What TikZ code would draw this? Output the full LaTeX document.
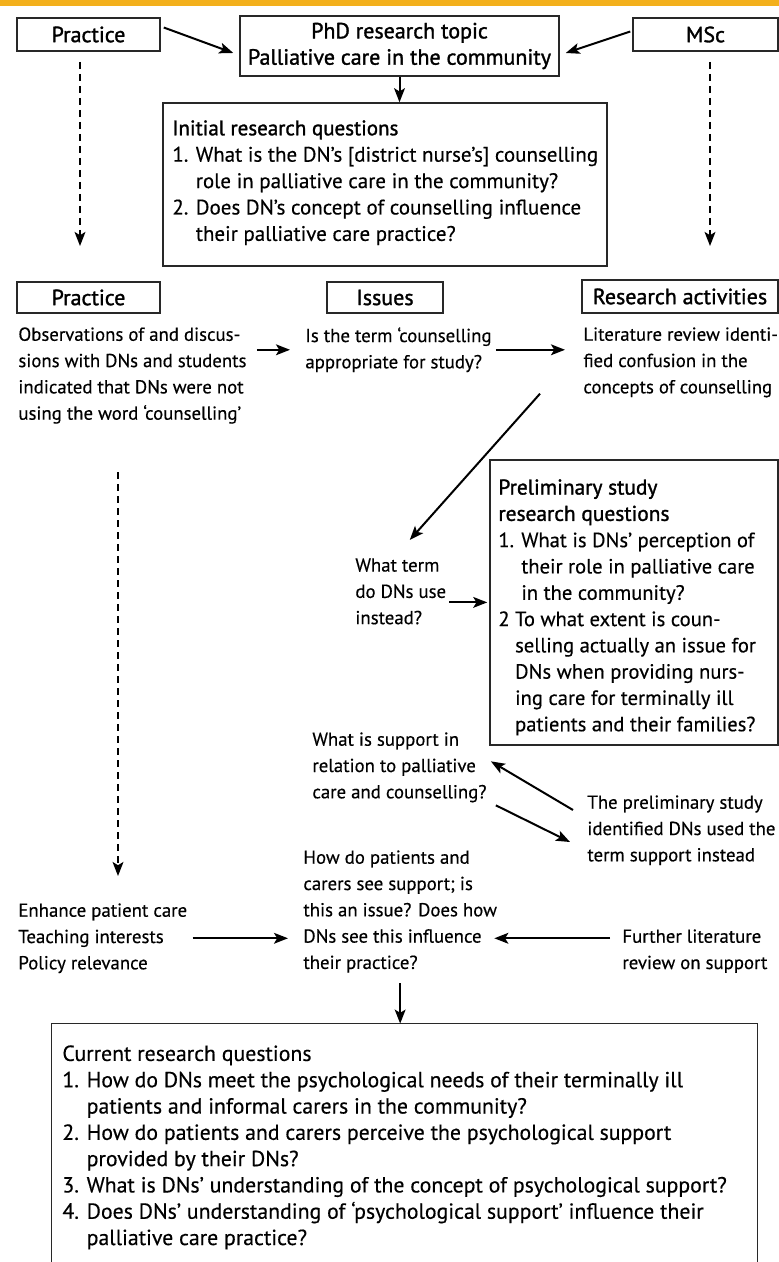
\documentclass[tikz,border=0pt]{standalone}
\usepackage{fontspec}
\setmainfont{PT Sans}[FakeBold=0.4]
\newfontfamily\headfont{PT Sans}[FakeBold=1.4]
\usetikzlibrary{arrows.meta,fit}
\definecolor{barorange}{RGB}{243,176,28}
\definecolor{boxline}{RGB}{40,40,40}
\begin{document}
\begin{tikzpicture}[x=0.5pt,y=-0.5pt,
  frame/.style={draw=boxline, line width=0.75pt, inner sep=0pt},
  head/.style={frame, font=\headfont\fontsize{11}{13.15}\selectfont, align=center},
  note/.style={anchor=north west, inner sep=0pt, align=left, font=\fontsize{9.4}{13.15}\selectfont},
  boxtext/.style={anchor=north west, inner sep=0pt, align=left, font=\fontsize{10.5}{13.2}\selectfont},
  pretext/.style={anchor=north west, inner sep=0pt, align=left, font=\fontsize{10.3}{13.15}\selectfont},
  curtext/.style={anchor=north west, inner sep=0pt, align=left, font=\fontsize{10.9}{13.15}\selectfont},
  arr/.style={-{Stealth[length=7pt,width=5.4pt,inset=1.6pt]}, line width=1pt},
  darr/.style={arr, dash pattern=on 3.6pt off 2.4pt},
]
\useasboundingbox (0,0) rectangle (779,1262);
\fill[barorange] (0,0) rectangle (779,6);

% row 1
\node[head, minimum width=71.5pt, minimum height=16.5pt] (prA) at (88.5,34.5) {Practice};
\node[head, minimum width=159.5pt, minimum height=30pt] (phd) at (399.5,46) {PhD research topic\\Palliative care in the community};
\node[head, minimum width=72.5pt, minimum height=16.5pt] (msc) at (705.5,34.5) {MSc};
\draw[arr] ([shift={(3,-7)}]prA.east) -- ([shift={(-6,7)}]phd.west);
\draw[arr] ([shift={(-2,-3)}]msc.west) -- ([shift={(6,7)}]phd.east);

\coordinate (d1s) at (80,62);
\coordinate (d1e) at (80,246);
\coordinate (d2s) at (710,62);
\coordinate (d2e) at (710,246);
\draw[darr] (d1s) -- (d1e);
\draw[darr] (d2s) -- (d2e);

% initial questions
\node[frame, minimum width=222pt, minimum height=81.5pt] (init) at (385,184.5) {};
\node[boxtext] (inittxt) at (172,120) {{\headfont Initial research questions}\\
1. What is the DN’s [district nurse’s] counselling\\
\phantom{1. }role in palliative care in the community?\\
2. Does DN’s concept of counselling influence\\
\phantom{2. }their palliative care practice?};
\draw[arr] (phd.south) -- (phd.south |- init.north);

% column headers
\node[head, minimum width=71.5pt, minimum height=15.5pt] (prB) at (88.5,297.5) {Practice};
\node[head, minimum width=58pt, minimum height=15.5pt] (iss) at (385,297.5) {Issues};
\node[head, minimum width=98pt, minimum height=16.5pt] (ract) at (680,296.5) {Research activities};

\node[note] (obs) at (18,327) {Observations of and discus-\\sions with DNs and students\\indicated that DNs were not\\using the word ‘counselling’};
\node[note] (isterm) at (305,327) {Is the term ‘counselling\\appropriate for study?};
\node[note] (lit) at (583,327) {Literature review identi-\\fied confusion in the\\concepts of counselling};
\draw[arr, shorten <=5pt, shorten >=7.5pt] (obs.east |- isterm.west) -- (isterm.west);
\draw[arr, shorten <=2pt, shorten >=9pt] (isterm.east) -- (isterm.east -| lit.west);

% preliminary study
\node[frame, minimum width=144pt, minimum height=142.5pt] (prelim) at (634,602.5) {};
\node[pretext] (prelimtxt) at (498,479) {{\headfont\fontsize{10.7}{13.15}\selectfont Preliminary study}\\
{\headfont\fontsize{10.7}{13.15}\selectfont research questions}\\
1. What is DNs’ perception of\\
\phantom{1. }their role in palliative care\\
\phantom{1. }in the community?\\
2 To what extent is coun-\\
\phantom{2 }selling actually an issue for\\
\phantom{2 }DNs when providing nurs-\\
\phantom{2 }ing care for terminally ill\\
\phantom{2 }patients and their families?};

\node[note] (wterm) at (355,558) {What term\\do DNs use\\instead?};
\draw[arr] ([shift={(-43,-4)}]lit.south west) -- ([shift={(9,-18)}]wterm.north);
\coordinate (wtarr) at ([shift={(3,11)}]wterm.east);
\draw[arr, shorten >=1pt] (wtarr) -- (wtarr -| prelim.west);

\node[note] (wsupp) at (312,732) {What is support in\\relation to palliative\\care and counselling?};
\node[note] (pres) at (587,795) {The preliminary study\\identified DNs used the\\term support instead};
\draw[arr] ([shift={(-14,15)}]pres.north west) -- ([shift={(4,-6)}]wsupp.east);
\draw[arr] ([shift={(9,38)}]wsupp.east) -- ([shift={(-17,47)}]pres.north west);

% lower part
\coordinate (d3s) at (118,472);
\coordinate (d3e) at (118,876);
\draw[darr] (d3s) -- (d3e);

\node[note] (howdo) at (303,850) {How do patients and\\carers see support; is\\this an issue? Does how\\DNs see this influence\\their practice?};
\node[note] (enh) at (18,903) {Enhance patient care\\Teaching interests\\Policy relevance};
\node[note] (furth) at (622,929) {Further literature\\review on support};
\draw[arr, shorten <=2.5pt, shorten >=7.5pt] (enh.east) -- (enh.east -| howdo.west);
\draw[arr, shorten <=6pt, shorten >=-1.5pt] (furth.west |- enh.east) -- (howdo.east |- enh.east);

% current questions
\node[inner sep=0pt, fit={(52,1024) (757,1262)}] (cur) {};
\draw[draw=boxline, line width=0.75pt] (cur.south west) |- (cur.north east) -- (cur.south east);
\draw[arr, shorten <=5pt] (howdo.south) -- (howdo.south |- cur.north);
\node[curtext] (curtxt) at (62,1045) {Current research questions\\
1. How do DNs meet the psychological needs of their terminally ill\\
\phantom{1. }patients and informal carers in the community?\\
2. How do patients and carers perceive the psychological support\\
\phantom{2. }provided by their DNs?\\
3. What is DNs’ understanding of the concept of psychological support?\\
4. Does DNs’ understanding of ‘psychological support’ influence their\\
\phantom{4. }palliative care practice?};
\end{tikzpicture}
\end{document}
